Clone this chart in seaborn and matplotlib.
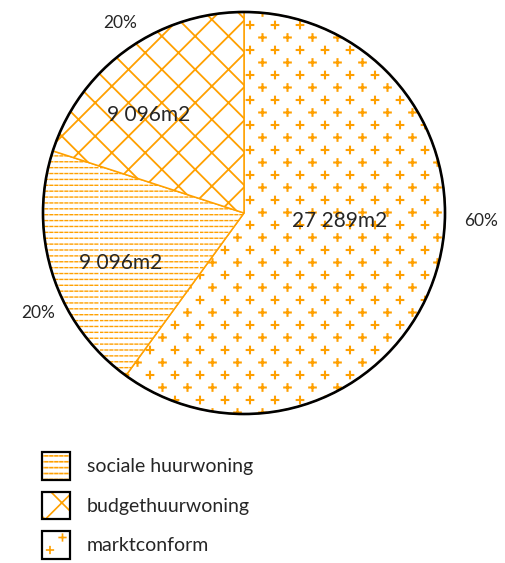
import numpy as np
import matplotlib
matplotlib.use("Agg")
import matplotlib.pyplot as plt
import matplotlib.hatch as mhatch
from matplotlib.path import Path
from matplotlib.patches import Patch, Circle
from matplotlib.legend_handler import HandlerTuple
import seaborn as sns

# ---- data -------------------------------------------------------------
categories = ["sociale huurwoning", "budgethuurwoning", "marktconform"]
areas_m2 = [9096, 9096, 27289]
hatches = [".", "x", "*"]            # fill textures per category
hatch_lw = [1.0, 1.3, 1.5]           # texture stroke widths (pt)
pie_order = [2, 0, 1]                # clockwise from 12 o'clock

ORANGE = "#FFA000"
TEXT = "#262626"


# ---- custom fill textures (one hatch tile = 72 px) -----------------------
def _segments(vertices, codes, starts, ends):
    vertices[0::2] = starts
    vertices[1::2] = ends
    codes[0::2] = Path.MOVETO
    codes[1::2] = Path.LINETO


class DashRows(mhatch.HatchPatternBase):
    """Dense rows of short horizontal dashes."""
    def __init__(self, hatch, density):
        k = hatch.count(".")
        self.rows = 17 * k
        self.cols = 20 * k
        self.num_vertices = self.rows * self.cols * 2

    def set_vertices_and_codes(self, vertices, codes):
        ys = (np.arange(self.rows) + 0.5) / self.rows
        xs = np.arange(self.cols) / self.cols
        X, Y = np.meshgrid(xs, ys)
        start = np.column_stack([X.ravel(), Y.ravel()])
        _segments(vertices, codes, start, start + [0.55 / self.cols, 0.0])


class Diamonds(mhatch.HatchPatternBase):
    """Diagonal cross-hatch forming diamonds."""
    phase = (0.285, -0.028)

    def __init__(self, hatch, density):
        self.n = 3 * hatch.count("x")
        self.ks = np.arange(-2 * self.n, 3 * self.n + 1) if self.n else []
        self.num_vertices = 4 * len(self.ks)

    def set_vertices_and_codes(self, vertices, codes):
        ox, oy = self.phase
        c = self.ks / self.n + (ox - oy)      # lines x - y = c
        d = self.ks / self.n + (ox + oy)      # lines x + y = d
        t = 2.0
        a0 = np.column_stack([c / 2 - t, -c / 2 - t])
        a1 = np.column_stack([c / 2 + t, -c / 2 + t])
        b0 = np.column_stack([d / 2 - t, d / 2 + t])
        b1 = np.column_stack([d / 2 + t, d / 2 - t])
        _segments(vertices, codes,
                  np.vstack([a0, b0]), np.vstack([a1, b1]))


class Pluses(mhatch.HatchPatternBase):
    """Staggered grid of small plus signs."""
    def __init__(self, hatch, density):
        k = hatch.count("*")
        self.cols = 4 * k
        self.rows = 8 * k
        pts = []
        if k:
            for r in range(self.rows + 1):
                shift = 0.5 * (r % 2)
                for c in range(-1, self.cols + 1):
                    pts.append(((c + shift) / self.cols, r / self.rows))
        self.pts = np.array(pts).reshape(-1, 2)
        self.num_vertices = 4 * len(self.pts)

    def set_vertices_and_codes(self, vertices, codes):
        h = 0.033
        for i, (x, y) in enumerate(self.pts):
            vertices[4 * i: 4 * i + 4] = [(x - h, y), (x + h, y),
                                          (x, y - h), (x, y + h)]
        codes[0::2] = Path.MOVETO
        codes[1::2] = Path.LINETO


mhatch._hatch_types = [DashRows, Diamonds, Pluses]


def apply_hatch(patch, i):
    patch.set_hatch(hatches[i])
    if hasattr(patch, "set_hatch_linewidth"):
        patch.set_hatch_linewidth(hatch_lw[i])
    else:
        patch._hatch_linewidth = hatch_lw[i]


# ---- style ------------------------------------------------------------
sns.set_theme(style="white")
plt.rcParams["font.family"] = ["Lato", "DejaVu Sans"]
plt.rcParams["hatch.linewidth"] = 1.2

W, H, R = 505, 563, 201
fig = plt.figure(figsize=(W / 100, H / 100), dpi=100)
ax = fig.add_axes([0, 0, 1, 1])

vals = [areas_m2[i] for i in pie_order]
wedges, _ = ax.pie(
    vals,
    startangle=90,
    counterclock=False,
    radius=1,
    colors=["white"] * len(vals),
    wedgeprops=dict(edgecolor=ORANGE, linewidth=1.1),
)
for w, i in zip(wedges, pie_order):
    apply_hatch(w, i)

ax.add_patch(Circle((0, 0), 1, fill=False, edgecolor="black",
                    linewidth=1.9, zorder=5))

# pie centre sits at (244, 213) px from the top-left corner
cx, cy = 244, 213
ax.set_xlim(-cx / R, (W - cx) / R)
ax.set_ylim(-(H - cy) / R, cy / R)
ax.set_aspect("auto")
ax.axis("off")

# ---- labels -----------------------------------------------------------
total = sum(areas_m2)
# per-wedge placement tweaks (angle shift in degrees, radius fraction)
area_shift = {2: (13, 0.48), 0: (4, 0.66), 1: (8, 0.68)}
pct_shift = {2: (16, 1.18), 0: (8, 1.14), 1: (-3, 1.13)}

for w, i in zip(wedges, pie_order):
    mid = 0.5 * (w.theta1 + w.theta2)
    a, r = area_shift[i]
    t = np.deg2rad(mid + a)
    ax.text(r * np.cos(t), r * np.sin(t),
            f"{areas_m2[i]:,}".replace(",", " ") + "m2",
            ha="center", va="center", fontsize=15, color=TEXT, zorder=6)
    a, r = pct_shift[i]
    t = np.deg2rad(mid + a)
    ax.text(r * np.cos(t), r * np.sin(t),
            f"{100 * areas_m2[i] / total:.0f}%",
            ha="center", va="center", fontsize=12.5, color=TEXT, zorder=6)

# ---- legend -----------------------------------------------------------
handles = []
for i in range(len(categories)):
    fill = Patch(facecolor="white", edgecolor=ORANGE, linewidth=0)
    apply_hatch(fill, i)
    border = Patch(facecolor="none", edgecolor="black", linewidth=1.6)
    handles.append((fill, border))

ax.legend(
    handles, categories,
    handler_map={tuple: HandlerTuple(ndivide=1)},
    loc="upper left",
    bbox_to_anchor=(42 / W, 1 - 452 / H),
    bbox_transform=fig.transFigure,
    frameon=False,
    borderpad=0, borderaxespad=0,
    fontsize=14,
    handlelength=1.45, handleheight=1.8,
    handletextpad=0.85, labelspacing=0.62,
    labelcolor=TEXT,
)

fig.savefig("out.png", dpi=100)
